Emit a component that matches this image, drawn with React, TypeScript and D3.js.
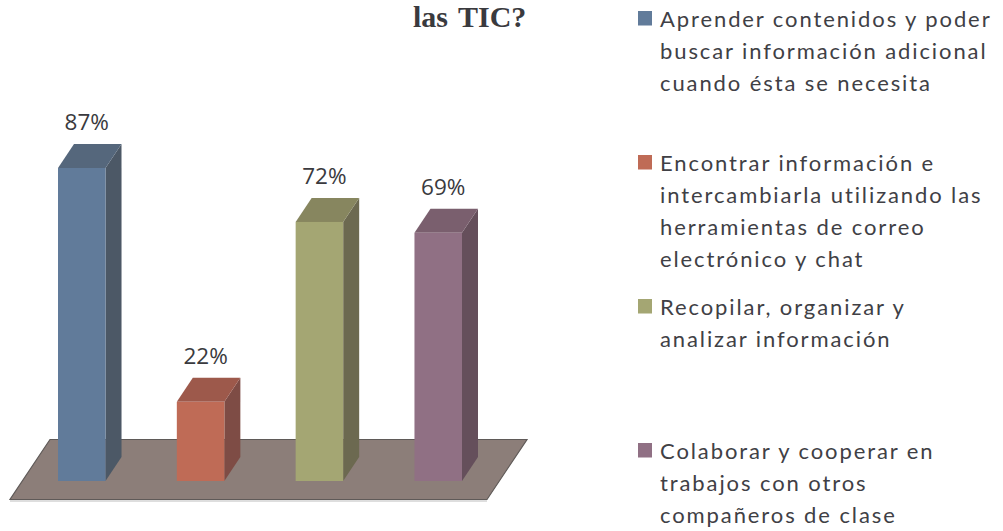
import React from "react";
import * as d3 from "d3";

const categories = ["a", "b", "c", "d"];
const values = [87, 22, 72, 69];
const labels = ["87%", "22%", "72%", "69%"];
const frontColors = ["#617b9a", "#bf6b56", "#a4a673", "#907084"];
const topColors = ["#55677c", "#9d594b", "#87865f", "#7a5f6e"];
const sideColors = ["#4c5866", "#7e4c45", "#6c6950", "#654f5b"];
const legendLines = [
  ["Aprender contenidos y poder", "buscar información adicional", "cuando ésta se necesita"],
  ["Encontrar información e", "intercambiarla utilizando las", "herramientas de correo", "electrónico y chat"],
  ["Recopilar, organizar y", "analizar información"],
  ["Colaborar y cooperar en", "trabajos con otros", "compañeros de clase"],
];
const titleText = "las TIC?";

export default function App() {
  const x = d3.scaleBand<string>().domain(categories).range([58, 462]).paddingInner(0.6).paddingOuter(0);
  const y = d3.scaleLinear().domain([0, 87]).range([481, 168]);
  const legendY = d3.scaleLinear().domain([0, 3]).range([27, 459]);
  const dx = 16, dy = 24;
  const floor = d3.line()([[10, 499.5], [487, 499.5], [527, 439.5], [50, 439.5]]) + "Z";
  return (
    <svg width={1003} height={531} style={{ position: "absolute", left: 0, top: 0, background: "#fff" }}>
      <text x={413} y={27} fontFamily="Liberation Serif" fontWeight="bold" fontSize={30} wordSpacing={3} fill="#3a3a3e">{titleText}</text>
      <line x1={10} x2={487} y1={501} y2={501} stroke="#bdbdbd" strokeWidth={1} />
      <path d={floor} fill="#8c7e79" stroke="#5f5a58" strokeWidth={1.2} />
      {categories.map((c, i) => {
        const x0 = x(c)!, w = x.bandwidth(), yt = y(values[i]), yb = y(0);
        const x1 = x0 + w;
        return (
          <g key={c}>
            <path d={d3.line()([[x1, yt], [x1 + dx, yt - dy], [x1 + dx, yb - dy], [x1, yb]]) + "Z"} fill={sideColors[i]} />
            <path d={d3.line()([[x0, yt], [x0 + dx, yt - dy], [x1 + dx, yt - dy], [x1, yt]]) + "Z"} fill={topColors[i]} />
            <rect x={x0} y={yt} width={w} height={yb - yt} fill={frontColors[i]} />
            <text x={x0 + w / 2 + 5} y={yt - 38} textAnchor="middle" fontFamily="Open Sans" fontSize={22.5} fill="#3a3a3e">{labels[i]}</text>
          </g>
        );
      })}
      {legendLines.map((lines, i) => (
        <g key={i}>
          <rect x={638} y={legendY(i) - 16} width={14} height={14.5} fill={frontColors[i]} />
          {lines.map((t, j) => (
            <text key={j} x={660} y={legendY(i) + j * 32} fontFamily="Lato" fontSize={22} letterSpacing={1.9} fill="#404045">{t}</text>
          ))}
        </g>
      ))}
    </svg>
  );
}
